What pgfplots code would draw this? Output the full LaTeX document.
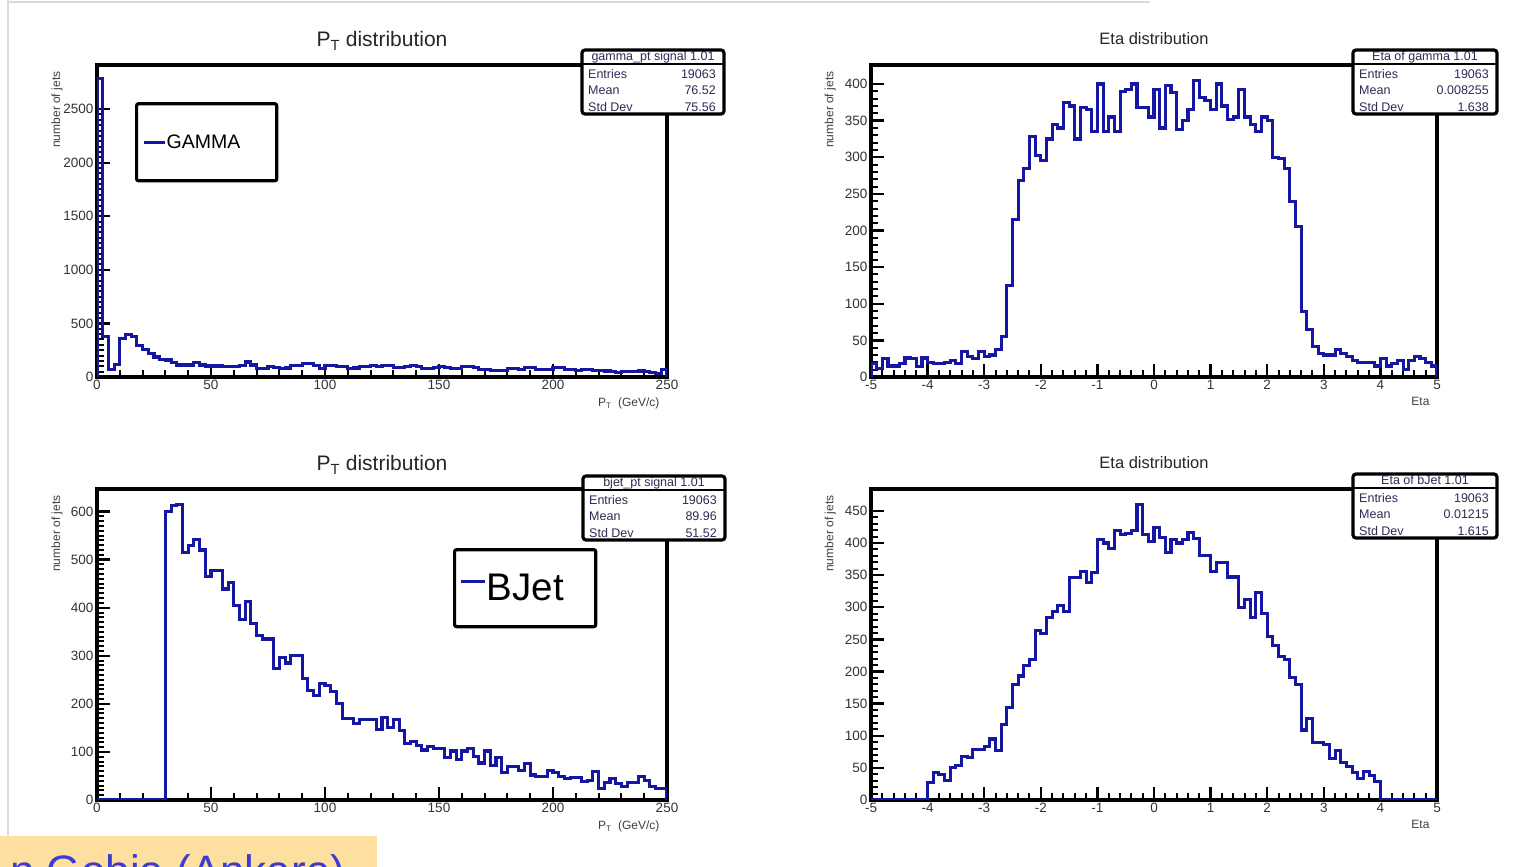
\documentclass[border=0pt]{standalone}
\usepackage{fontspec}
\setmainfont{Liberation Sans}
\usepackage{pgfplots}
\pgfplotsset{compat=1.18}
\usepackage{pgfplotstable}

\definecolor{histblue}{RGB}{22,22,165}
\definecolor{ticktext}{RGB}{50,50,55}
\definecolor{labeltext}{RGB}{70,60,60}
\definecolor{statstext}{RGB}{45,45,85}
\definecolor{notebg}{RGB}{253,224,160}
\definecolor{noteblue}{RGB}{60,60,210}
\definecolor{slideedge}{RGB}{218,218,218}

% bin left edge, bin content (closed with a zero at both ends)
\pgfplotstableread[row sep=\\]{x y\\
0 0\\ 0 2787\\ 2.5 375\\ 5 72\\ 7.5 119\\ 10 362\\ 12.5 400\\ 15 375\\ 17.5 290\\ 20 259\\
22.5 218\\ 25 187\\ 27.5 165\\ 30 159\\ 32.5 134\\ 35 112\\ 37.5 112\\ 40 112\\ 42.5 134\\ 45 112\\
47.5 103\\ 50 103\\ 52.5 103\\ 55 100\\ 57.5 100\\ 60 100\\ 62.5 105\\ 65 140\\ 67.5 112\\ 70 80\\
72.5 78\\ 75 95\\ 77.5 92\\ 80 80\\ 82.5 84\\ 85 108\\ 87.5 110\\ 90 122\\ 92.5 128\\ 95 104\\
97.5 82\\ 100 110\\ 102.5 106\\ 105 94\\ 107.5 96\\ 110 80\\ 112.5 84\\ 115 98\\ 117.5 102\\ 120 104\\
122.5 98\\ 125 110\\ 127.5 108\\ 130 90\\ 132.5 86\\ 135 100\\ 137.5 104\\ 140 98\\ 142.5 80\\ 145 78\\
147.5 92\\ 150 96\\ 152.5 90\\ 155 80\\ 157.5 76\\ 160 94\\ 162.5 96\\ 165 90\\ 167.5 72\\ 170 66\\
172.5 60\\ 175 62\\ 177.5 58\\ 180 76\\ 182.5 80\\ 185 72\\ 187.5 86\\ 190 90\\ 192.5 74\\ 195 68\\
197.5 72\\ 200 86\\ 202.5 88\\ 205 74\\ 207.5 70\\ 210 64\\ 212.5 72\\ 215 66\\ 217.5 62\\ 220 64\\
222.5 56\\ 225 52\\ 227.5 46\\ 230 50\\ 232.5 54\\ 235 48\\ 237.5 56\\ 240 52\\ 242.5 40\\ 245 36\\
247.5 70\\ 250 0\\
}\gammapt

\pgfplotstableread[row sep=\\]{x y\\
-5 0\\ -5 18\\ -4.9 12\\ -4.8 25\\ -4.7 15\\ -4.6 15\\ -4.5 18\\ -4.4 26\\ -4.3 25\\ -4.2 14\\ -4.1 26\\
-4 20\\ -3.9 18\\ -3.8 18\\ -3.7 20\\ -3.6 22\\ -3.5 18\\ -3.4 35\\ -3.3 28\\ -3.2 25\\ -3.1 35\\
-3 28\\ -2.9 30\\ -2.8 38\\ -2.7 55\\ -2.6 125\\ -2.5 215\\ -2.4 268\\ -2.3 285\\ -2.2 328\\ -2.1 302\\
-2 295\\ -1.9 325\\ -1.8 345\\ -1.7 340\\ -1.6 375\\ -1.5 370\\ -1.4 325\\ -1.3 368\\ -1.2 365\\ -1.1 335\\
-1 400\\ -0.9 335\\ -0.8 355\\ -0.7 335\\ -0.6 390\\ -0.5 392\\ -0.4 400\\ -0.3 368\\ -0.2 368\\ -0.1 355\\
0 393\\ 0.1 340\\ 0.2 398\\ 0.3 388\\ 0.4 338\\ 0.5 350\\ 0.6 365\\ 0.7 405\\ 0.8 382\\ 0.9 378\\
1 365\\ 1.1 400\\ 1.2 370\\ 1.3 352\\ 1.4 355\\ 1.5 392\\ 1.6 355\\ 1.7 345\\ 1.8 335\\ 1.9 355\\
2 350\\ 2.1 300\\ 2.2 298\\ 2.3 285\\ 2.4 240\\ 2.5 205\\ 2.6 90\\ 2.7 65\\ 2.8 42\\ 2.9 32\\
3 30\\ 3.1 30\\ 3.2 38\\ 3.3 32\\ 3.4 28\\ 3.5 22\\ 3.6 20\\ 3.7 20\\ 3.8 20\\ 3.9 15\\
4 25\\ 4.1 15\\ 4.2 18\\ 4.3 22\\ 4.4 10\\ 4.5 22\\ 4.6 28\\ 4.7 25\\ 4.8 20\\ 4.9 15\\
5 0\\
}\gammaeta

\pgfplotstableread[row sep=\\]{x y\\
0 0\\ 30 600\\ 32.5 612\\ 35 615\\ 37.5 515\\ 40 529\\ 42.5 541\\ 45 520\\ 47.5 465\\ 50 477\\
52.5 477\\ 55 439\\ 57.5 453\\ 60 405\\ 62.5 375\\ 65 413\\ 67.5 367\\ 70 342\\ 72.5 335\\ 75 335\\
77.5 273\\ 80 297\\ 82.5 285\\ 85 300\\ 87.5 300\\ 90 252\\ 92.5 228\\ 95 218\\ 97.5 243\\ 100 238\\
102.5 225\\ 105 200\\ 107.5 169\\ 110 169\\ 112.5 159\\ 115 168\\ 117.5 168\\ 120 168\\ 122.5 147\\ 125 171\\
127.5 151\\ 130 168\\ 132.5 145\\ 135 118\\ 137.5 121\\ 140 114\\ 142.5 104\\ 145 111\\ 147.5 107\\ 150 107\\
152.5 89\\ 155 102\\ 157.5 85\\ 160 102\\ 162.5 107\\ 165 90\\ 167.5 77\\ 170 102\\ 172.5 72\\ 175 89\\
177.5 57\\ 180 69\\ 182.5 69\\ 185 62\\ 187.5 75\\ 190 52\\ 192.5 48\\ 195 48\\ 197.5 61\\ 200 57\\
202.5 48\\ 205 45\\ 207.5 47\\ 210 47\\ 212.5 38\\ 215 41\\ 217.5 59\\ 220 24\\ 222.5 36\\ 225 45\\
227.5 35\\ 230 29\\ 232.5 36\\ 235 36\\ 237.5 48\\ 240 41\\ 242.5 29\\ 245 24\\ 247.5 24\\ 250 0\\
}\bjetpt

\pgfplotstableread[row sep=\\]{x y\\
-5 0\\ -4 27\\ -3.9 43\\ -3.8 39\\ -3.7 30\\ -3.6 51\\ -3.5 53\\ -3.4 67\\ -3.3 66\\ -3.2 79\\ -3.1 79\\
-3 83\\ -2.9 95\\ -2.8 77\\ -2.7 118\\ -2.6 144\\ -2.5 180\\ -2.4 193\\ -2.3 210\\ -2.2 219\\ -2.1 264\\
-2 259\\ -1.9 284\\ -1.8 293\\ -1.7 302\\ -1.6 293\\ -1.5 346\\ -1.4 346\\ -1.3 355\\ -1.2 338\\ -1.1 354\\
-1 405\\ -0.9 400\\ -0.8 392\\ -0.7 420\\ -0.6 413\\ -0.5 415\\ -0.4 420\\ -0.3 460\\ -0.2 413\\ -0.1 402\\
0 424\\ 0.1 408\\ 0.2 385\\ 0.3 406\\ 0.4 400\\ 0.5 406\\ 0.6 416\\ 0.7 407\\ 0.8 380\\ 0.9 380\\
1 356\\ 1.1 369\\ 1.2 369\\ 1.3 347\\ 1.4 347\\ 1.5 299\\ 1.6 312\\ 1.7 284\\ 1.8 323\\ 1.9 290\\
2 255\\ 2.1 240\\ 2.2 223\\ 2.3 219\\ 2.4 191\\ 2.5 180\\ 2.6 109\\ 2.7 127\\ 2.8 90\\ 2.9 90\\
3 86\\ 3.1 64\\ 3.2 77\\ 3.3 59\\ 3.4 52\\ 3.5 43\\ 3.6 34\\ 3.7 45\\ 3.8 38\\ 3.9 29\\
4 0\\ 5 0\\
}\bjeteta

\newcommand{\statsfont}{\fontsize{12.5}{12.5}\selectfont}

% ROOT-style statistics box: #1 left, #2 top, #3 width, #4 name, #5 entries, #6 mean, #7 std dev
\newcommand{\statsbox}[7]{%
  \begin{scope}
    \clip[rounded corners=3pt] (#1,#2) rectangle ++(#3,-64);
    \fill[white] (#1,#2) rectangle ++(#3,-64);
    \draw[line width=2pt] (#1,#2-14) -- ++(#3,0);
    \node[font=\statsfont, text=statstext, anchor=base, inner sep=0pt] at (#1+#3/2,#2-11) {#4};
    \node[font=\statsfont, text=statstext, anchor=base west, inner sep=0pt] at (#1+6,#2-29) {Entries};
    \node[font=\statsfont, text=statstext, anchor=base west, inner sep=0pt] at (#1+6,#2-45) {Mean};
    \node[font=\statsfont, text=statstext, anchor=base west, inner sep=0pt] at (#1+6,#2-62) {Std Dev};
    \node[font=\statsfont, text=statstext, anchor=base east, inner sep=0pt] at (#1+#3-8,#2-29) {#5};
    \node[font=\statsfont, text=statstext, anchor=base east, inner sep=0pt] at (#1+#3-8,#2-45) {#6};
    \node[font=\statsfont, text=statstext, anchor=base east, inner sep=0pt] at (#1+#3-8,#2-62) {#7};
  \end{scope}
  \draw[line width=3.2pt, rounded corners=3pt] (#1,#2) rectangle ++(#3,-64);
}

\pgfplotsset{
  rootpad/.style={
    scale only axis,
    anchor=south west,
    axis line style={line width=3.5pt, line cap=rect},
    tick align=inside,
    xtick pos=left, ytick pos=left,
    major tick length=13pt, minor tick length=7pt,
    major tick style={line width=2.4pt, black},
    minor tick style={line width=2pt, black},
    tick label style={font=\fontsize{13.5}{13.5}\selectfont, text=ticktext},
    /pgf/number format/assume math mode=true,
    /pgf/number format/1000 sep={},
    scaled ticks=false,
    ylabel={number of jets},
    ylabel style={font=\fontsize{12}{12}\selectfont, text=labeltext,
      at={(axis description cs:-0.07,0.99)}, anchor=east},
    xlabel style={font=\fontsize{12}{12}\selectfont, text=labeltext,
      at={(axis description cs:1,0)}, anchor=north east, yshift=-17pt, xshift=-4pt},
    title style={at={(0.5,1)}, anchor=base, text=black!85},
    legend cell align=left,
  },
  histo/.style={const plot mark left, histblue, line width=3.1pt, no markers, line join=miter},
}

\begin{document}
\begin{tikzpicture}[x=1pt,y=1pt]
\useasboundingbox (0,0) rectangle (1539,867);
\clip (0,0) rectangle (1539,867);

% slide edges
\draw[slideedge, line width=2pt] (8,32) -- (8,867);
\draw[slideedge, line width=1.5pt] (8,865) -- (1150,865);

% photon transverse momentum
\begin{axis}[rootpad, at={(97pt,490pt)}, width=570pt, height=312pt,
  xmin=0, xmax=250, ymin=0, ymax=2912,
  xtick={0,50,...,250}, minor x tick num=4,
  ytick={0,500,...,2500}, minor y tick num=9,
  title={P\textsubscript{T} distribution},
  title style={font=\fontsize{21}{21}\selectfont, yshift=12pt},
  xlabel={P\textsubscript{T}\ \ (GeV/c)},
  legend style={at={(axis description cs:0.0667,0.881)}, anchor=north west,
    draw=black, line width=3.2pt, rounded corners=2pt, inner xsep=6pt, inner ysep=31pt,
    font=\fontsize{19.5}{19.5}\selectfont, nodes={inner sep=0pt},
    /tikz/every even column/.append style={column sep=6pt}},
  legend image code/.code={\draw[#1] (0pt,0pt) -- (21pt,0pt);},
]
\addplot[histo] table {\gammapt};
\addlegendentry{\makebox[104pt][l]{GAMMA}}
\end{axis}

% photon pseudorapidity
\begin{axis}[rootpad, at={(871pt,490pt)}, width=566pt, height=312pt,
  xmin=-5, xmax=5, ymin=0, ymax=426,
  xtick={-5,...,5}, minor x tick num=4,
  ytick={0,50,...,400}, minor y tick num=4,
  title={Eta distribution},
  title style={font=\fontsize{16.5}{16.5}\selectfont, yshift=14pt},
  xlabel={Eta},
  ylabel style={at={(axis description cs:-0.072,0.99)}},
]
\addplot[histo] table {\gammaeta};
\end{axis}

% b-jet transverse momentum
\begin{axis}[rootpad, at={(97pt,67pt)}, width=570pt, height=311pt,
  xmin=0, xmax=250, ymin=0, ymax=647,
  xtick={0,50,...,250}, minor x tick num=4,
  ytick={0,100,...,600}, minor y tick num=9,
  title={P\textsubscript{T} distribution},
  title style={font=\fontsize{21}{21}\selectfont, yshift=12pt},
  xlabel={P\textsubscript{T}\ \ (GeV/c)},
  legend style={at={(axis description cs:0.6246,0.810)}, anchor=north west,
    draw=black, line width=3.2pt, rounded corners=2pt, inner xsep=5pt, inner ysep=24.5pt,
    font=\fontsize{38.5}{38.5}\selectfont, nodes={inner sep=0pt},
    /tikz/every even column/.append style={column sep=4pt}},
  legend image code/.code={\draw[#1] (0pt,7pt) -- (24pt,7pt);},
]
\addplot[histo] table {\bjetpt};
\addlegendentry{\makebox[104pt][l]{BJet}}
\end{axis}

% b-jet pseudorapidity
\begin{axis}[rootpad, at={(871pt,67pt)}, width=566pt, height=311pt,
  xmin=-5, xmax=5, ymin=0, ymax=484,
  xtick={-5,...,5}, minor x tick num=4,
  ytick={0,50,...,450}, minor y tick num=4,
  title={Eta distribution},
  title style={font=\fontsize{16.5}{16.5}\selectfont, yshift=14pt},
  xlabel={Eta},
  ylabel style={at={(axis description cs:-0.072,0.99)}},
]
\addplot[histo] table {\bjeteta};
\end{axis}

% statistics boxes
\statsbox{582}{817}{142}{gamma\_pt signal 1.01}{19063}{76.52}{75.56}
\statsbox{1353}{817}{144}{Eta of gamma 1.01}{19063}{0.008255}{1.638}
\statsbox{583}{391}{142}{bjet\_pt signal 1.01}{19063}{89.96}{51.52}
\statsbox{1353}{393}{144}{Eta of bJet 1.01}{19063}{0.01215}{1.615}

% speaker note strip along the lower edge
\fill[notebg] (0,0) rectangle (377,31);
\node[anchor=base west, inner sep=0pt, font=\fontsize{44}{44}\selectfont, text=noteblue]
  at (10,-19.5) {n Gobia (Ankara)};
\end{tikzpicture}
\end{document}
